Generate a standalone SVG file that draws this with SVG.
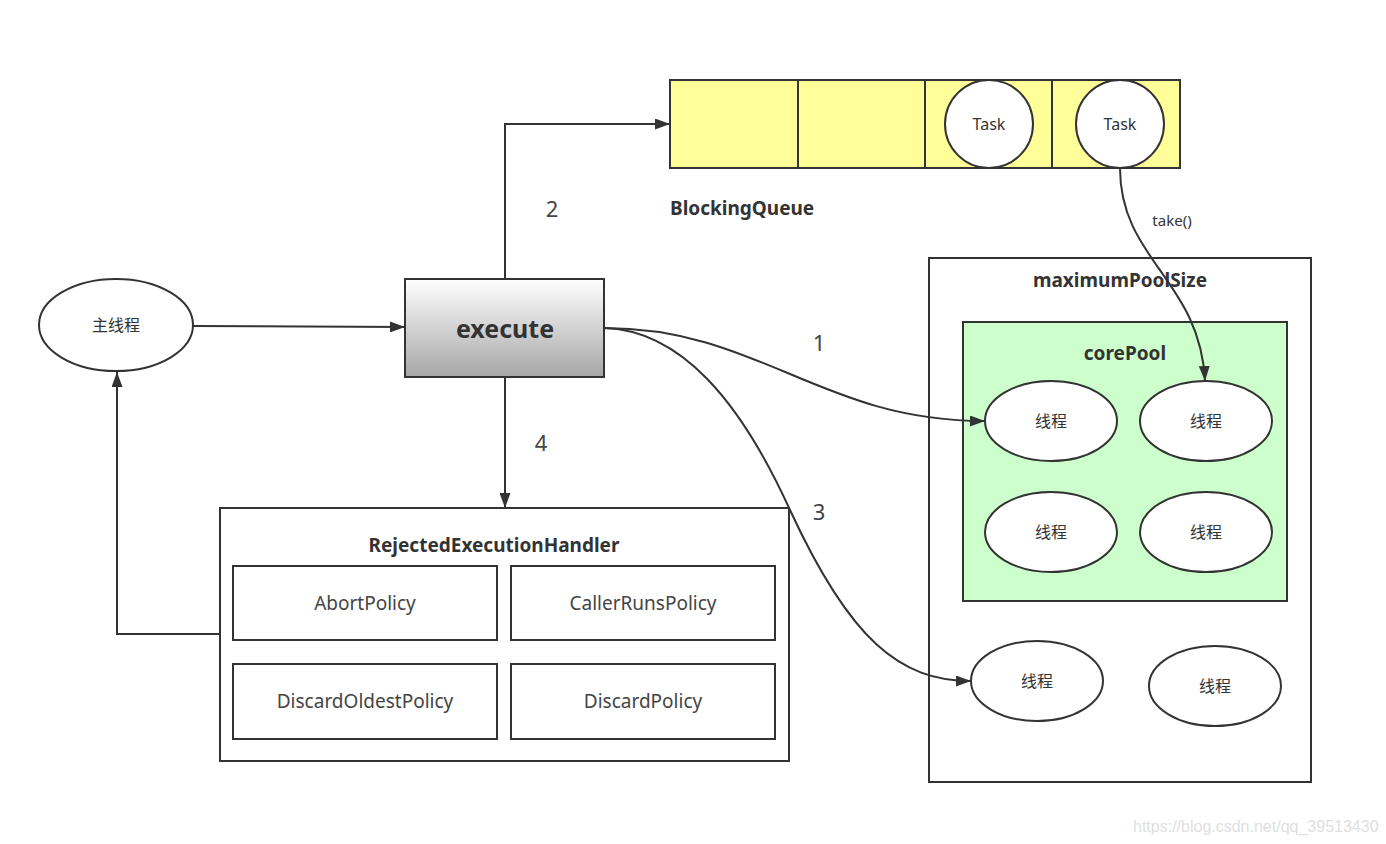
<svg xmlns="http://www.w3.org/2000/svg" width="1386" height="844" viewBox="0 0 1386 844">
<style>
text{font-family:"Noto Sans","Noto Sans CJK SC",sans-serif;fill:#333}
.s{stroke:#333;stroke-width:2}
.b{font-weight:bold}
.c{text-anchor:middle;dominant-baseline:central}
.conn{fill:none;stroke:#333;stroke-width:2;marker-end:url(#ah)}
.el{fill:#fff;stroke:#333;stroke-width:2}
.th{font-size:16px}
.pol{font-size:19px;fill:#444}
.num{font-size:22px;fill:#444}
</style>
<defs>
<marker id="ah" viewBox="0 0 15 11" refX="15" refY="5.5" markerWidth="15" markerHeight="11" markerUnits="userSpaceOnUse" orient="auto">
<path d="M0,0 L15,5.5 L0,11 z" fill="#333"/>
</marker>
<linearGradient id="g" x1="0" y1="0" x2="0" y2="1">
<stop offset="0" stop-color="#ffffff"/>
<stop offset="1" stop-color="#a6a6a6"/>
</linearGradient>
</defs>
<rect width="1386" height="844" fill="#fff"/>

<g id="queue">
<rect x="670" y="80" width="510" height="88" fill="#ffff99" class="s"/>
<line x1="798" y1="80" x2="798" y2="168" class="s"/>
<line x1="925" y1="80" x2="925" y2="168" class="s"/>
<line x1="1052" y1="80" x2="1052" y2="168" class="s"/>
<circle cx="989" cy="124" r="44" class="el"/>
<text x="989" y="124" class="c" font-size="16">Task</text>
<circle cx="1120" cy="124" r="44" class="el"/>
<text x="1120" y="124" class="c" font-size="16">Task</text>
<text x="670" y="215" class="b" font-size="19">BlockingQueue</text>
</g>

<g id="main">
<ellipse cx="116" cy="325" rx="77" ry="46" class="el"/>
<text x="116" y="325" class="c th">主线程</text>
</g>

<g id="execute">
<rect x="405" y="279" width="199" height="98" fill="url(#g)" class="s"/>
<text x="505" y="328" class="c b" font-size="25" fill="#333">execute</text>
</g>

<g id="handler">
<rect x="220" y="508" width="569" height="253" fill="#fff" class="s"/>
<text x="494" y="545" class="c b" font-size="19">RejectedExecutionHandler</text>
<rect x="233" y="566" width="264" height="74" fill="#fff" class="s"/>
<text x="365" y="603" class="c pol">AbortPolicy</text>
<rect x="511" y="566" width="264" height="74" fill="#fff" class="s"/>
<text x="643" y="603" class="c pol">CallerRunsPolicy</text>
<rect x="233" y="664" width="264" height="75" fill="#fff" class="s"/>
<text x="365" y="701" class="c pol">DiscardOldestPolicy</text>
<rect x="511" y="664" width="264" height="75" fill="#fff" class="s"/>
<text x="643" y="701" class="c pol">DiscardPolicy</text>
</g>

<g id="maxpool">
<rect x="929" y="258" width="382" height="524" fill="#fff" class="s"/>
<text x="1120" y="280" class="c b" font-size="19">maximumPoolSize</text>
<ellipse cx="1037" cy="681" rx="66" ry="40" class="el"/>
<text x="1037" y="681" class="c th">线程</text>
<ellipse cx="1215" cy="686" rx="66" ry="40" class="el"/>
<text x="1215" y="686" class="c th">线程</text>
</g>

<g id="corepool">
<rect x="963" y="322" width="324" height="279" fill="#ccffcc" class="s"/>
<text x="1125" y="353" class="c b" font-size="19">corePool</text>
<ellipse cx="1051" cy="421" rx="66" ry="40" class="el"/>
<text x="1051" y="421" class="c th">线程</text>
<ellipse cx="1206" cy="421" rx="66" ry="40" class="el"/>
<text x="1206" y="421" class="c th">线程</text>
<ellipse cx="1051" cy="532" rx="66" ry="40" class="el"/>
<text x="1051" y="532" class="c th">线程</text>
<ellipse cx="1206" cy="532" rx="66" ry="40" class="el"/>
<text x="1206" y="532" class="c th">线程</text>
</g>

<g id="connectors">
<path d="M193,326 L405,327" class="conn"/>
<path d="M505,279 L505,124 L670,124" class="conn"/>
<path d="M505,377 L505,508" class="conn"/>
<path d="M220,634 L117,634 L117,372" class="conn"/>
<path d="M604,328 C760,328 820,421 985,421" class="conn"/>
<path d="M604,328 C680,330 740,400 790,510 C850,640 900,681 971,681" class="conn"/>
<path d="M1120,168 C1120,260 1200,280 1205,381" class="conn"/>
<text x="552" y="208" class="c num">2</text>
<text x="541" y="442" class="c num">4</text>
<text x="819" y="342" class="c num">1</text>
<text x="819" y="511" class="c num">3</text>
<text x="1172" y="220" class="c" font-size="15" fill="#444">take()</text>
</g>

<text x="1133" y="832" font-size="16" style="fill:#e0e0e0;font-family:'Liberation Sans',sans-serif">https://blog.csdn.net/qq_39513430</text>
</svg>
